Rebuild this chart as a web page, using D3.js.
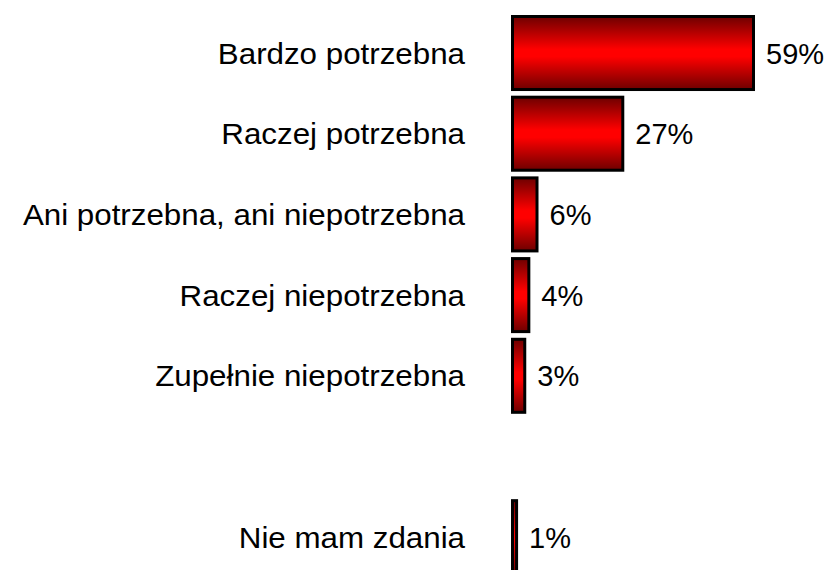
<!DOCTYPE html>
<html>
<head>
<meta charset="utf-8">
<script src="https://cdn.jsdelivr.net/npm/d3@7"></script>
<style>
	body { margin: 0; background: #fff; }
	text { font-family: Arial, "Liberation Sans", sans-serif; fill: #000; }
</style>
</head>
<body>
<svg id="chart" width="830" height="570"></svg>
<script>
// answers, one empty row before "Nie mam zdania"
var categories = [
	'Bardzo potrzebna',
	'Raczej potrzebna',
	'Ani potrzebna, ani niepotrzebna',
	'Raczej niepotrzebna',
	'Zupełnie niepotrzebna',
	'',
	'Nie mam zdania'
];
var values = [59, 27, 6, 4, 3, null, 1];
var valueLabels = ['59%', '27%', '6%', '4%', '3%', '', '1%'];

var svg = d3.select('#chart');

var rows = categories.map(function(c, i){
	return { key: 'r' + i, name: c, value: values[i], label: valueLabels[i] };
});

var y = d3.scaleBand()
	.domain(rows.map(function(r){ return r.key; }))
	.range([16.5, 573.7])
	.paddingInner(0.095)
	.paddingOuter(0);

var x = d3.scaleLinear()
	.domain([0, 59])
	.range([512.5, 753.5]);

var grad = svg.append('defs').append('linearGradient')
	.attr('id', 'barFill')
	.attr('x1', 0).attr('y1', 0)
	.attr('x2', 0).attr('y2', 1);

grad.selectAll('stop')
	.data([['0%', '#6e0000'], ['45%', '#ff0000'], ['55%', '#ff0000'], ['100%', '#6e0000']])
	.enter()
	.append('stop')
	.attr('offset', function(d){ return d[0]; })
	.attr('stop-color', function(d){ return d[1]; });

var drawn = rows.filter(function(r){ return r.value != null; });

// bars
svg.selectAll('rect.bar')
	.data(drawn)
	.enter()
	.append('rect')
	.attr('class', 'bar')
	.attr('x', x(0))
	.attr('y', function(r){ return y(r.key); })
	.attr('width', function(r){ return x(r.value) - x(0); })
	.attr('height', y.bandwidth())
	.attr('fill', 'url(#barFill)')
	.attr('stroke', '#000')
	.attr('stroke-width', 3);

// category labels (slightly wide text in the original)
svg.selectAll('g.cat')
	.data(drawn)
	.enter()
	.append('g')
	.attr('class', 'cat')
	.attr('transform', function(r){
		return 'translate(465,' + (y(r.key) + y.bandwidth() / 2 + 10.5) + ') scale(1.08,1)';
	})
	.append('text')
	.attr('text-anchor', 'end')
	.style('font-size', '29px')
	.text(function(r){ return r.name; });

// value labels
svg.selectAll('text.val')
	.data(drawn)
	.enter()
	.append('text')
	.attr('class', 'val')
	.attr('x', function(r){ return x(r.value) + 12.5; })
	.attr('y', function(r){ return y(r.key) + y.bandwidth() / 2 + 10.5; })
	.style('font-size', '29px')
	.text(function(r){ return r.label; });
</script>
</body>
</html>
